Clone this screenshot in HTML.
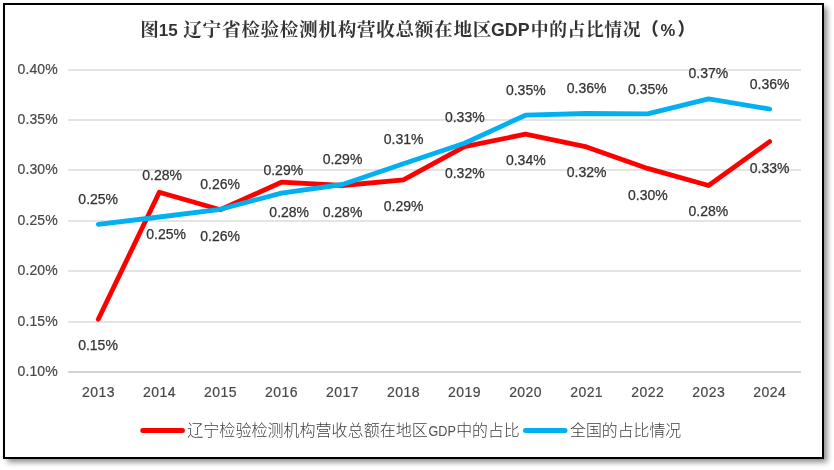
<!DOCTYPE html>
<html lang="zh-CN"><head><meta charset="utf-8"><title>图15</title>
<style>
html,body{margin:0;padding:0;background:#fff;}
body{width:834px;height:470px;overflow:hidden;position:relative;font-family:"Liberation Sans","Noto Sans CJK SC",sans-serif;}
#frame{position:absolute;left:3px;top:3px;width:817px;height:452px;border:2px solid #000;background:#fff;box-shadow:3.5px 3.5px 5.5px rgba(0,0,0,0.45);}
svg{position:absolute;left:0;top:0;}
.ax{font-family:"Liberation Sans",sans-serif;font-size:14px;fill:#484848;letter-spacing:0.1px;stroke:#484848;stroke-width:0.2px;}
.dl{font-family:"Liberation Sans",sans-serif;font-size:14px;fill:#333;letter-spacing:0;stroke:#333;stroke-width:0.25px;}
.tc{font-family:"Liberation Serif","Noto Serif CJK SC",serif;font-weight:bold;font-size:18.6px;letter-spacing:0.7px;fill:#333;}
.tp{font-family:"Liberation Sans","Noto Sans CJK SC",sans-serif;font-weight:900;font-size:17.5px;fill:#333;}
.tl{font-family:"Liberation Sans",sans-serif;font-weight:bold;font-size:17px;fill:#333;}
.lg{font-family:"Liberation Sans","Noto Sans CJK SC",sans-serif;font-weight:300;font-size:15.9px;fill:#404040;}
.ll{font-family:"Liberation Sans",sans-serif;font-weight:normal;font-size:14.6px;fill:#505050;}
</style></head><body>
<div id="frame"></div>
<svg width="834" height="470" viewBox="0 0 834 470">

<rect x="68" y="69" width="733" height="2" fill="#e4e4e4"/>
<text class="ax" x="57.8" y="74.20" text-anchor="end">0.40%</text>
<rect x="68" y="119" width="733" height="2" fill="#e4e4e4"/>
<text class="ax" x="57.8" y="124.20" text-anchor="end">0.35%</text>
<rect x="68" y="169" width="733" height="2" fill="#e4e4e4"/>
<text class="ax" x="57.8" y="174.20" text-anchor="end">0.30%</text>
<rect x="68" y="220" width="733" height="2" fill="#e4e4e4"/>
<text class="ax" x="57.8" y="225.20" text-anchor="end">0.25%</text>
<rect x="68" y="270" width="733" height="2" fill="#e4e4e4"/>
<text class="ax" x="57.8" y="275.20" text-anchor="end">0.20%</text>
<rect x="68" y="321" width="733" height="2" fill="#e4e4e4"/>
<text class="ax" x="57.8" y="326.20" text-anchor="end">0.15%</text>
<rect x="68" y="371" width="733" height="2" fill="#d4d4d4"/>
<text class="ax" x="57.8" y="376.20" text-anchor="end">0.10%</text>
<text class="ax" style="letter-spacing:0.45px" x="98.40" y="396.9" text-anchor="middle">2013</text>
<text class="ax" style="letter-spacing:0.45px" x="159.43" y="396.9" text-anchor="middle">2014</text>
<text class="ax" style="letter-spacing:0.45px" x="220.46" y="396.9" text-anchor="middle">2015</text>
<text class="ax" style="letter-spacing:0.45px" x="281.49" y="396.9" text-anchor="middle">2016</text>
<text class="ax" style="letter-spacing:0.45px" x="342.52" y="396.9" text-anchor="middle">2017</text>
<text class="ax" style="letter-spacing:0.45px" x="403.55" y="396.9" text-anchor="middle">2018</text>
<text class="ax" style="letter-spacing:0.45px" x="464.58" y="396.9" text-anchor="middle">2019</text>
<text class="ax" style="letter-spacing:0.45px" x="525.61" y="396.9" text-anchor="middle">2020</text>
<text class="ax" style="letter-spacing:0.45px" x="586.64" y="396.9" text-anchor="middle">2021</text>
<text class="ax" style="letter-spacing:0.45px" x="647.67" y="396.9" text-anchor="middle">2022</text>
<text class="ax" style="letter-spacing:0.45px" x="708.70" y="396.9" text-anchor="middle">2023</text>
<text class="ax" style="letter-spacing:0.45px" x="769.73" y="396.9" text-anchor="middle">2024</text>
<polyline points="98.30,319.30 159.33,192.30 220.36,209.80 281.39,182.20 342.42,185.50 403.45,179.80 464.48,146.70 525.51,134.20 586.54,146.90 647.57,168.40 708.60,185.50 769.63,141.60" fill="none" stroke="#ff0000" stroke-width="4.8" stroke-linecap="round" stroke-linejoin="round"/>
<polyline points="98.30,224.30 159.33,217.00 220.36,209.30 281.39,193.10 342.42,184.50 403.45,163.70 464.48,143.20 525.51,115.20 586.54,113.50 647.57,113.90 708.60,98.90 769.63,109.00" fill="none" stroke="#00b0f0" stroke-width="4.8" stroke-linecap="round" stroke-linejoin="round"/>
<text class="dl" x="98.00" y="350.10" text-anchor="middle">0.15%</text>
<text class="dl" x="162.10" y="180.40" text-anchor="middle">0.28%</text>
<text class="dl" x="220.10" y="189.40" text-anchor="middle">0.26%</text>
<text class="dl" x="283.30" y="175.10" text-anchor="middle">0.29%</text>
<text class="dl" x="342.50" y="217.10" text-anchor="middle">0.28%</text>
<text class="dl" x="403.60" y="211.10" text-anchor="middle">0.29%</text>
<text class="dl" x="464.80" y="177.90" text-anchor="middle">0.32%</text>
<text class="dl" x="525.80" y="164.90" text-anchor="middle">0.34%</text>
<text class="dl" x="586.60" y="177.10" text-anchor="middle">0.32%</text>
<text class="dl" x="647.90" y="199.60" text-anchor="middle">0.30%</text>
<text class="dl" x="708.40" y="216.20" text-anchor="middle">0.28%</text>
<text class="dl" x="769.60" y="172.60" text-anchor="middle">0.33%</text>
<text class="dl" x="98.20" y="203.80" text-anchor="middle">0.25%</text>
<text class="dl" x="166.10" y="238.70" text-anchor="middle">0.25%</text>
<text class="dl" x="220.10" y="241.20" text-anchor="middle">0.26%</text>
<text class="dl" x="289.20" y="217.10" text-anchor="middle">0.28%</text>
<text class="dl" x="342.50" y="164.10" text-anchor="middle">0.29%</text>
<text class="dl" x="403.60" y="143.90" text-anchor="middle">0.31%</text>
<text class="dl" x="464.80" y="121.80" text-anchor="middle">0.33%</text>
<text class="dl" x="525.80" y="95.00" text-anchor="middle">0.35%</text>
<text class="dl" x="586.60" y="93.10" text-anchor="middle">0.36%</text>
<text class="dl" x="647.90" y="93.80" text-anchor="middle">0.35%</text>
<text class="dl" x="708.40" y="78.10" text-anchor="middle">0.37%</text>
<text class="dl" x="769.60" y="88.80" text-anchor="middle">0.36%</text>
<text y="35.8"><tspan class="tc" x="140.3">图</tspan><tspan class="tl" x="158.8">15</tspan><tspan class="tc" x="183.3">辽宁省检验检测机构营收总额在地区</tspan><tspan class="tl" x="491" style="font-size:17.8px">GDP</tspan><tspan class="tc" x="530.8" style="font-size:17.8px;letter-spacing:0.6px">中的占比情况</tspan><tspan class="tp" x="641.3" y="35">（</tspan><tspan class="tl" x="660.4" y="35.8" style="font-size:16.6px">%</tspan><tspan class="tp" x="677.6" y="35">）</tspan></text>
<line x1="142.8" x2="182.4" y1="430.5" y2="430.5" stroke="#ff0000" stroke-width="5" stroke-linecap="round"/>
<text y="436"><tspan class="lg" x="187.3" style="font-size:16.05px">辽宁检验检测机构营收总额在地区</tspan><tspan class="lg" x="456.2">中的占比</tspan></text>
<text class="ll" x="428.5" y="436" textLength="27.4" lengthAdjust="spacingAndGlyphs">GDP</text>
<line x1="525.5" x2="565" y1="430.5" y2="430.5" stroke="#00b0f0" stroke-width="5" stroke-linecap="round"/>
<text class="lg" x="570" y="436">全国的占比情况</text>
</svg></body></html>
